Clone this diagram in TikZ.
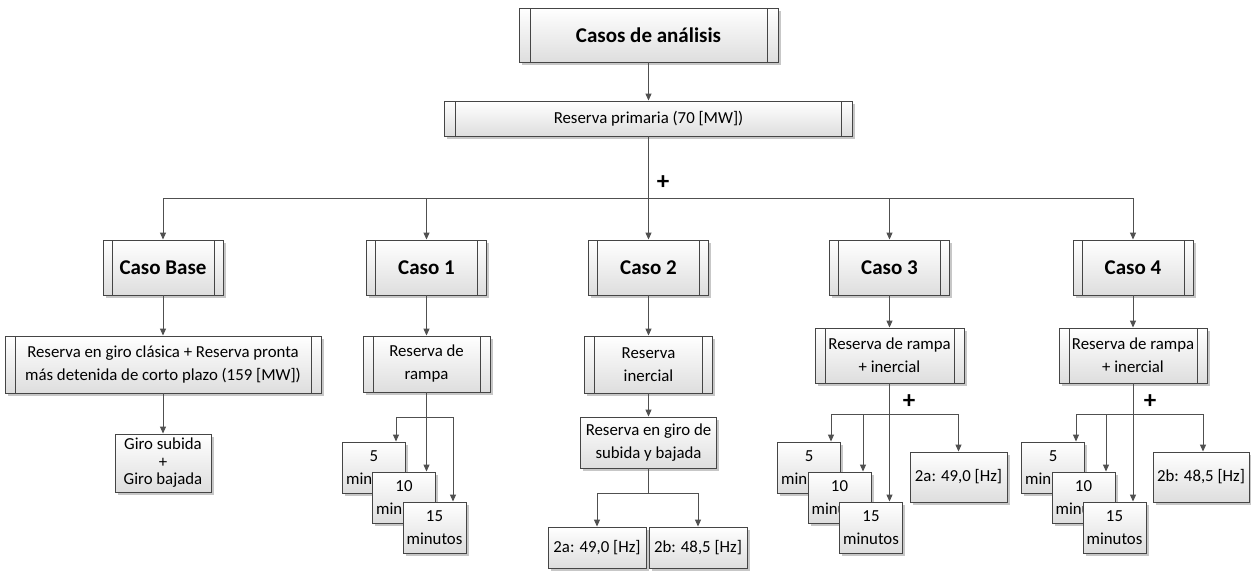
\documentclass[tikz,border=0pt]{standalone}
\usepackage{fontspec}
\setmainfont{Carlito}
\usetikzlibrary{arrows.meta,shadows}
\definecolor{lnc}{HTML}{505050}
\definecolor{bdc}{HTML}{454545}
\tikzset{
 boxbase/.style={draw=bdc, line width=0.9pt, top color=white, bottom color=black!13,
   drop shadow={shadow xshift=2.5pt,shadow yshift=-2.5pt,fill=black!40,opacity=0.55},
   inner sep=0pt, align=center, font=\fontsize{16.8}{23}\selectfont, text=black},
 proc/.style={boxbase, path picture={\draw[draw=bdc,line width=0.9pt]
   ([xshift=#1]path picture bounding box.north west) -- ([xshift=#1]path picture bounding box.south west)
   ([xshift=-#1]path picture bounding box.north east) -- ([xshift=-#1]path picture bounding box.south east);}},
 proc/.default=10pt,
 bigtxt/.style={font=\bfseries\fontsize{21}{25}\selectfont},
 arr/.style={draw=lnc, line width=1pt, -{Triangle[length=7pt,width=6pt]}},
 ln/.style={draw=lnc, line width=1pt},
 plustxt/.style={font=\bfseries\fontsize{25}{25}\selectfont, inner sep=0pt},
 casebox/.style={proc=9pt, bigtxt, minimum width=120pt, minimum height=55pt},
 minbox/.style={boxbase, minimum width=63pt, minimum height=51pt},
 hzbox/.style={boxbase, minimum width=97pt, minimum height=50pt}
}
\begin{document}
\begin{tikzpicture}[x=1pt,y=-1pt]
\path[use as bounding box, fill=white] (0,0) rectangle (1251,579);

% top level
\node[proc=11pt, bigtxt, minimum width=259pt, minimum height=54pt] (top) at (648.5,35) {Casos de análisis};
\node[proc=11pt, minimum width=408pt, minimum height=35pt] (prim) at (648.5,118.5) {Reserva primaria (70 [MW])};
\coordinate (j0) at (648.5,198);
\node[plustxt] (p0) at (663,183) {+};

% cases
\node[casebox] (cb) at (163,267.5) {Caso Base};
\node[casebox] (c1) at (426.5,267.5) {Caso 1};
\node[casebox] (c2) at (648.5,267.5) {Caso 2};
\node[casebox] (c3) at (889.5,267.5) {Caso 3};
\node[casebox] (c4) at (1133,267.5) {Caso 4};

% second level
\node[proc, minimum width=316pt, minimum height=57pt] (cbr) at (163,364.5) {Reserva en giro clásica + Reserva pronta\\más detenida de corto plazo (159 [MW])};
\node[proc, minimum width=127pt, minimum height=56pt] (c1r) at (426.5,364) {Reserva de\\rampa};
\node[proc, minimum width=128pt, minimum height=57pt] (c2r) at (648.5,364.5) {Reserva\\inercial};
\node[proc, minimum width=149pt, minimum height=55pt] (c3r) at (889.5,355.5) {Reserva de rampa\\+ inercial};
\node[proc, minimum width=148pt, minimum height=55pt] (c4r) at (1133,355.5) {Reserva de rampa\\+ inercial};

% Caso Base third level
\node[boxbase, minimum width=96pt, minimum height=58pt, font=\fontsize{16.8}{17.5}\selectfont] (cbg) at (163,463) {Giro subida\\+\\Giro bajada};

% Caso 1 third level
\node[minbox] (c1a) at (374,467.5) {5\\minutos};
\node[minbox] (c1b) at (404,497.5) {10\\minutos};
\node[minbox] (c1c) at (434.5,527.5) {15\\minutos};
\coordinate (c1j) at (426.5,417);

% Caso 2 third level
\node[boxbase, minimum width=136pt, minimum height=51pt] (c2g) at (648.5,442.5) {Reserva en giro de\\subida y bajada};
\node[boxbase, minimum width=98pt, minimum height=41pt] (c2a) at (597,547.5) {2a: 49,0 [Hz]};
\node[boxbase, minimum width=98pt, minimum height=41pt] (c2b) at (698,547.5) {2b: 48,5 [Hz]};
\coordinate (c2j) at (648.5,493);

% Caso 3 third level
\node[minbox] (c3a) at (809,467.5) {5\\minutos};
\node[minbox] (c3b) at (839.5,497.5) {10\\minutos};
\node[minbox] (c3c) at (871,527.5) {15\\minutos};
\node[hzbox] (c3d) at (958.5,477) {2a: 49,0 [Hz]};
\coordinate (c3j) at (889.5,414);
\node[plustxt] (p3) at (909,402) {+};

% Caso 4 third level
\node[minbox] (c4a) at (1053,467.5) {5\\minutos};
\node[minbox] (c4b) at (1083.5,497.5) {10\\minutos};
\node[minbox] (c4c) at (1114.5,527.5) {15\\minutos};
\node[hzbox, minimum width=96pt] (c4d) at (1201,477) {2b: 48,5 [Hz]};
\coordinate (c4j) at (1133,414);
\node[plustxt] (p4) at (1150,402) {+};

% connectors top
\draw[arr] (top.south) -- (top.south |- prim.north);
\draw[ln] (prim.south) -- (j0);
\draw[arr] (j0) -| (cb.north);
\draw[arr] (j0) -| (c1.north);
\draw[arr] (j0) -- (c2.north);
\draw[arr] (j0) -| (c3.north);
\draw[arr] (j0) -| (c4.north);

% case to second level
\draw[arr] (cb.south) -- (cbr.north);
\draw[arr] (c1.south) -- (c1r.north);
\draw[arr] (c2.south) -- (c2r.north);
\draw[arr] (c3.south) -- (c3r.north);
\draw[arr] (c4.south) -- (c4r.north);

% Caso Base
\draw[arr] (cbr.south) -- (cbg.north);

% Caso 1
\draw[arr] (c1r.south) -- (c1r.south |- c1b.north);
\draw[arr] (c1j) -| ([xshift=22pt]c1a.north);
\draw[arr] (c1j) -| ([xshift=18.5pt]c1c.north);

% Caso 2
\draw[arr] (c2r.south) -- (c2g.north);
\draw[ln] (c2g.south) -- (c2j);
\draw[arr] (c2j) -| (c2a.north);
\draw[arr] (c2j) -| (c2b.north);

% Caso 3
\draw[arr] (c3r.south) -- (c3r.south |- c3c.north);
\draw[arr] (c3j) -| ([xshift=22pt]c3a.north);
\draw[arr] (c3j) -| ([xshift=23.5pt]c3b.north);
\draw[arr] (c3j) -| (c3d.north);

% Caso 4
\draw[arr] (c4r.south) -- (c4r.south |- c4c.north);
\draw[arr] (c4j) -| ([xshift=23pt]c4a.north);
\draw[arr] (c4j) -| ([xshift=22.5pt]c4b.north);
\draw[arr] (c4j) -| ([xshift=2pt]c4d.north);
\end{tikzpicture}
\end{document}
